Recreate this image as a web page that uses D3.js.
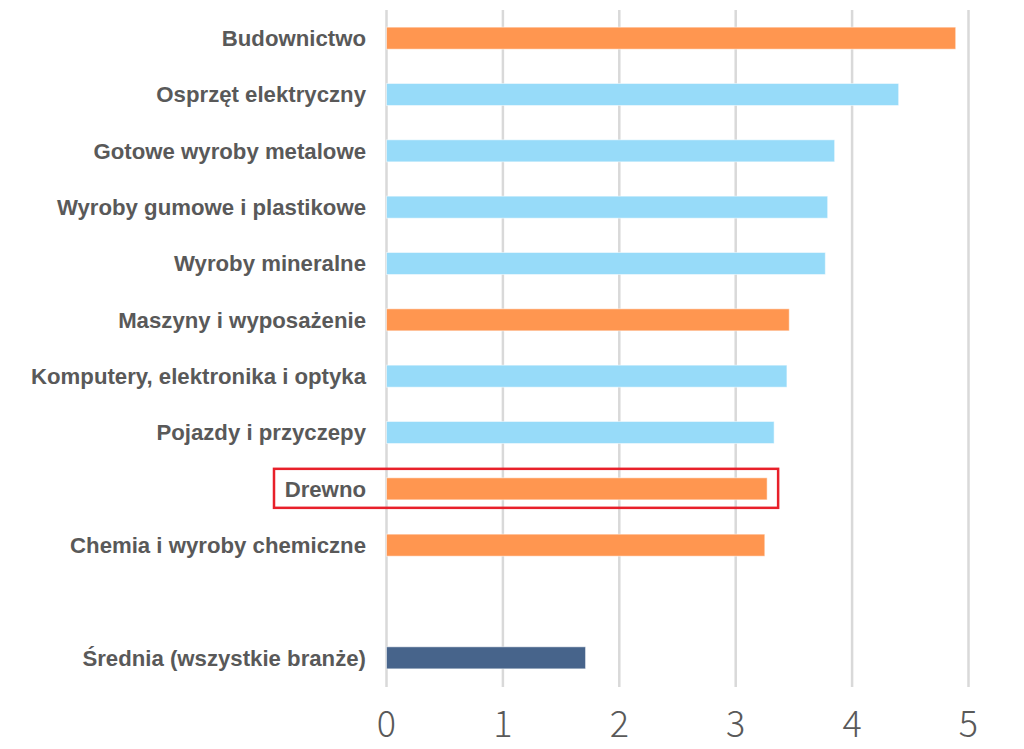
<!DOCTYPE html>
<html><head><meta charset="utf-8">
<script src="https://cdn.jsdelivr.net/npm/d3@7"></script>
<style>html,body{margin:0;padding:0;background:#fff;}svg{display:block;}</style>
</head><body>
<svg id="c" width="1024" height="749"></svg>
<script>
const categories = ["Budownictwo","Osprzęt elektryczny","Gotowe wyroby metalowe","Wyroby gumowe i plastikowe","Wyroby mineralne","Maszyny i wyposażenie","Komputery, elektronika i optyka","Pojazdy i przyczepy","Drewno","Chemia i wyroby chemiczne","","Średnia (wszystkie branże)"];
const values = [4.89,4.40,3.85,3.79,3.77,3.46,3.44,3.33,3.27,3.25,null,1.71];
const groups = ["o","b","b","b","b","o","b","b","o","o",null,"a"];
const ticks = [0,1,2,3,4,5];
const highlighted = "Drewno";
const colors = {o:"#FF9650", b:"#97DBF9", a:"#47648B"};

const svg = d3.select("#c");
const x = d3.scaleLinear().domain([0,5]).range([386.5,968.5]);
const y = d3.scaleBand().domain(categories).range([10,686]).paddingInner(0.609).paddingOuter(0.3045);

// gridlines
svg.append("g").selectAll("line").data(ticks).join("line")
  .attr("x1",d=>x(d)).attr("x2",d=>x(d)).attr("y1",10).attr("y2",687)
  .attr("stroke","#D9D9D9").attr("stroke-width",2.5);

// bars
const data = categories.map((c,i)=>({c,v:values[i],g:groups[i]})).filter(d=>d.v!=null);
svg.append("g").selectAll("rect").data(data).join("rect")
  .attr("x",x(0)).attr("y",d=>y(d.c)).attr("width",d=>x(d.v)-x(0)).attr("height",y.bandwidth())
  .attr("fill",d=>colors[d.g]).attr("stroke","rgba(255,255,255,0.5)").attr("stroke-width",1);

// category labels
svg.append("g").selectAll("text").data(data).join("text")
  .attr("x",366).attr("y",d=>y(d.c)+y.bandwidth()/2+7.8)
  .attr("text-anchor","end").attr("fill","#595959")
  .style("font-family","'Liberation Sans', Arial, sans-serif").style("font-weight","bold").style("font-size","22.2px")
  .text(d=>d.c);

// tick labels
svg.append("g").selectAll("text").data(ticks).join("text")
  .attr("x",d=>x(d)).attr("y",737).attr("text-anchor","middle").attr("fill","#595959")
  .style("font-family","'Noto Sans CJK JP','Noto Sans',sans-serif").style("font-weight","300").style("font-size","36px")
  .text(d=>d);

// highlight box
const hy = y(highlighted)+y.bandwidth()/2;
svg.append("rect").attr("x",274).attr("y",hy-20).attr("width",x(values[categories.indexOf(highlighted)])+11-274).attr("height",39)
  .attr("fill","none").attr("stroke","#E8202A").attr("stroke-width",2.5);
</script>
</body></html>
